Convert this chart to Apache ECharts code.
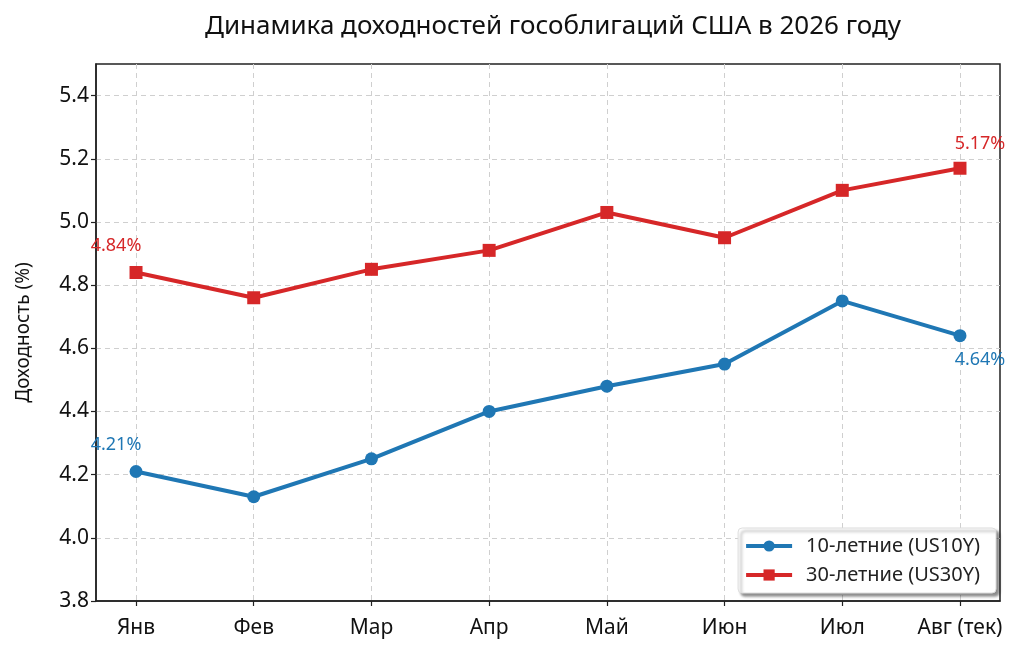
<!DOCTYPE html>
<html><head><meta charset="utf-8">
<script src="https://cdn.jsdelivr.net/npm/echarts@6/dist/echarts.min.js"></script>
<style>html,body{margin:0;padding:0;background:#fff}#c{width:1024px;height:654px}</style>
</head><body><div id="c"></div>
<script>
const categories = ['Янв','Фев','Мар','Апр','Май','Июн','Июл','Авг (тек)'];
const us10 = [4.21,4.13,4.25,4.40,4.48,4.55,4.75,4.64];
const us30 = [4.84,4.76,4.85,4.91,5.03,4.95,5.10,5.17];

const FONT = 'Noto Sans';
const idx = categories.map((_, i) => i);
const pairs = arr => arr.map((v, i) => [i, v]);
const last = categories.length - 1;

const chart = echarts.init(document.getElementById('c'));
chart.setOption({
  animation: false,
  textStyle: { fontFamily: FONT },
  title: {
    text: 'Динамика доходностей гособлигаций США в 2026 году',
    left: 548, textAlign: 'center', top: 9,
    textStyle: { fontFamily: FONT, fontSize: 26, fontWeight: 'normal', color: '#111' }
  },
  grid: { left: 96, right: 24, top: 64, bottom: 53, show: true, borderColor: '#222', borderWidth: 1.5, containLabel: false },
  xAxis: {
    type: 'value', min: -0.34, max: last + 0.34,
    axisLine: { show: true, onZero: false, lineStyle: { color: '#222', width: 1.5 } },
    axisTick: { show: true, customValues: idx, inside: false, length: 5, lineStyle: { color: '#222', width: 1.2 } },
    axisLabel: { customValues: idx, formatter: v => categories[Math.round(v)], fontSize: 21, color: '#111', margin: 17, fontFamily: FONT },
    splitLine: { show: true, lineStyle: { type: [5, 4], color: '#cfcfcf', width: 1 } }
  },
  yAxis: {
    type: 'value', min: 3.8, max: 5.5, interval: 0.2,
    name: 'Доходность (%)', nameLocation: 'middle', nameGap: 63, nameRotate: 90,
    nameTextStyle: { fontSize: 19, color: '#111', fontFamily: FONT },
    axisLine: { show: true, onZero: false, lineStyle: { color: '#222', width: 1.5 } },
    axisTick: { show: true, length: 5, lineStyle: { color: '#222', width: 1.2 } },
    axisLabel: { showMaxLabel: false, formatter: v => v.toFixed(1), fontSize: 21, color: '#111', margin: 7, fontFamily: FONT },
    splitLine: { show: true, showMaxLine: false, showMinLine: false, lineStyle: { type: [5, 4], color: '#cfcfcf', width: 1 } }
  },
  legend: {
    orient: 'vertical', right: 28, bottom: 61,
    backgroundColor: '#fff', borderColor: '#ddd', borderWidth: 1, borderRadius: 4,
    padding: [8, 16, 8, 6], itemGap: 9, itemWidth: 46, itemHeight: 14,
    lineStyle: { width: 4 },
    shadowColor: 'rgba(0,0,0,0.45)', shadowBlur: 3, shadowOffsetX: 3, shadowOffsetY: 3,
    textStyle: { fontSize: 20, color: '#222', fontFamily: FONT, lineHeight: 20, padding: [0, 0, 0, 9] }
  },
  series: [
    {
      name: '10-летние (US10Y)', type: 'line', data: pairs(us10),
      symbol: 'circle', symbolSize: 13,
      lineStyle: { color: '#1f77b4', width: 4 }, itemStyle: { color: '#1f77b4' },
      label: {
        show: true, fontSize: 18, color: '#1f77b4', fontFamily: FONT,
        formatter: p => (p.dataIndex === 0 || p.dataIndex === last) ? p.value[1].toFixed(2) + '%' : ''
      },
      labelLayout: p => p.dataIndex === 0 ? { dx: -20, dy: -6 } : (p.dataIndex === last ? { dx: 20, dy: 45 } : {}),
      emphasis: { disabled: true }
    },
    {
      name: '30-летние (US30Y)', type: 'line', data: pairs(us30),
      symbol: 'rect', symbolSize: 13,
      lineStyle: { color: '#d62728', width: 4 }, itemStyle: { color: '#d62728' },
      label: {
        show: true, fontSize: 18, color: '#d62728', fontFamily: FONT,
        formatter: p => (p.dataIndex === 0 || p.dataIndex === last) ? p.value[1].toFixed(2) + '%' : ''
      },
      labelLayout: p => p.dataIndex === 0 ? { dx: -20, dy: -6 } : (p.dataIndex === last ? { dx: 20, dy: -4 } : {}),
      emphasis: { disabled: true }
    }
  ]
});
</script></body></html>
